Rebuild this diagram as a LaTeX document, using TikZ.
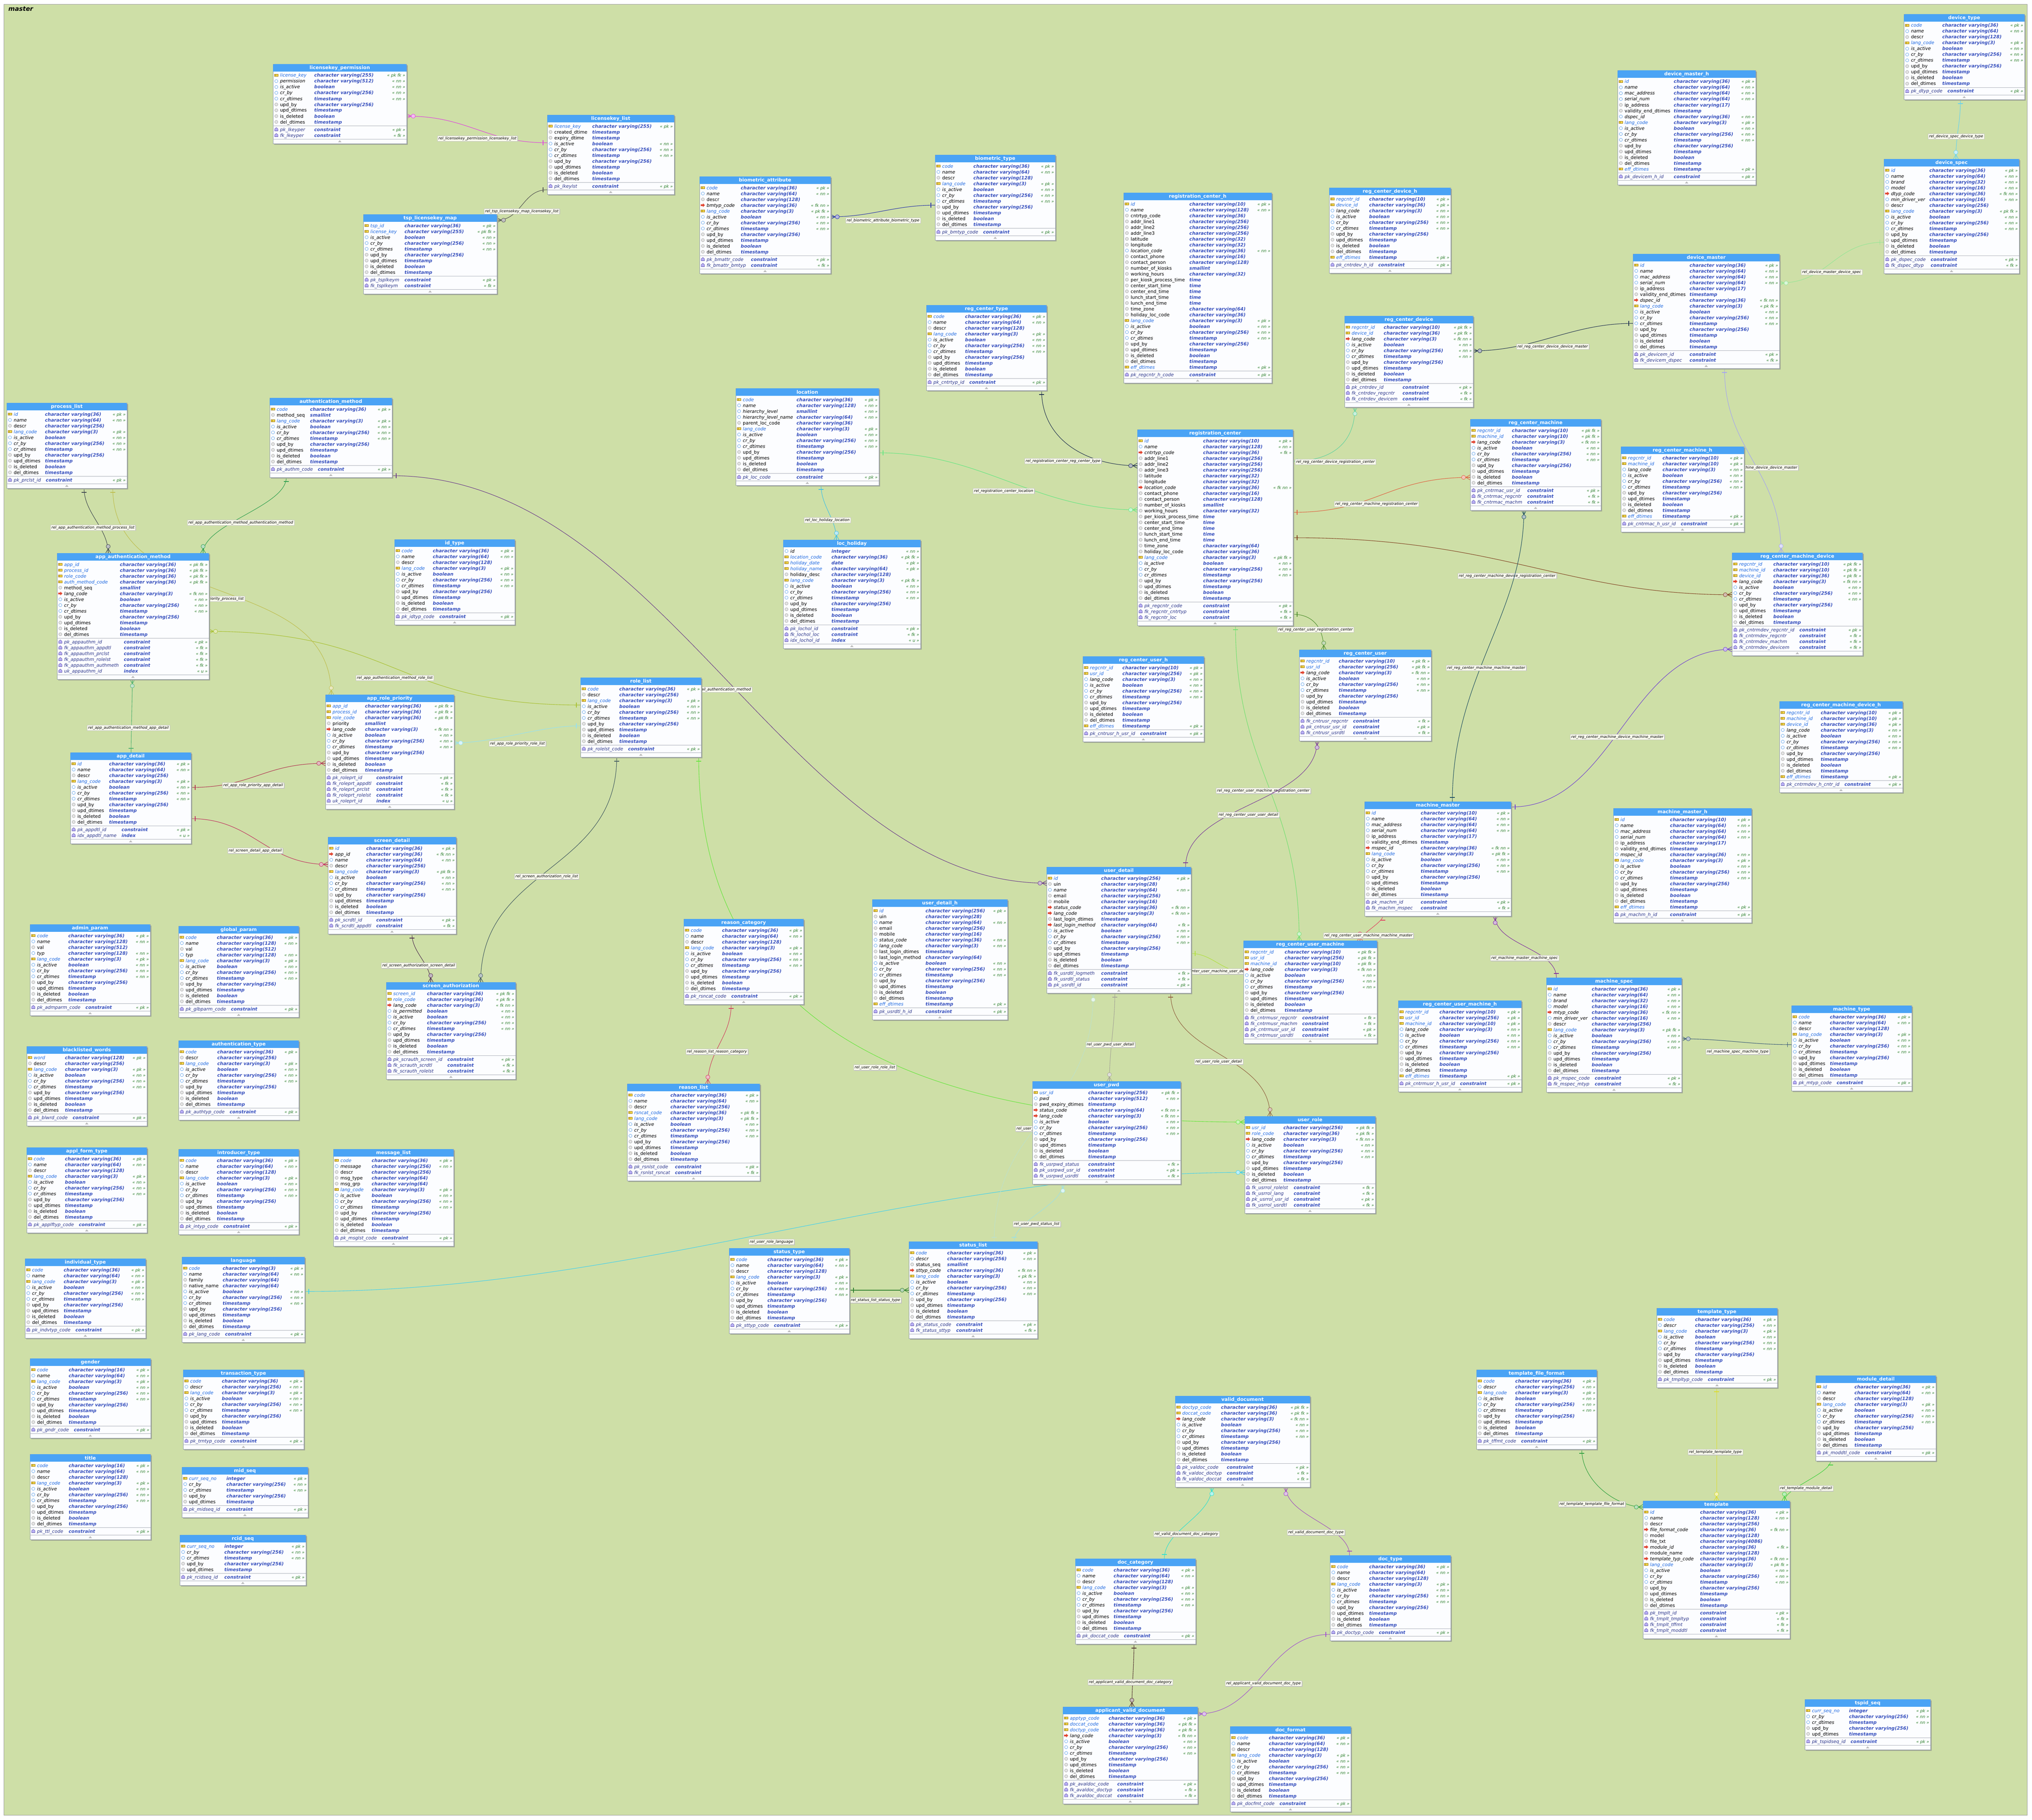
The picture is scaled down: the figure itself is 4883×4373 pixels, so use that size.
\documentclass[tikz,border=0pt]{standalone}
\usepackage{fontspec}
\setmainfont{DejaVu Sans}
\usetikzlibrary{calc,shadows}
\pgfdeclarelayer{back}
\pgfdeclarelayer{conn}
\pgfsetlayers{back,conn,main}
\definecolor{bgg}{RGB}{206,223,167}
\definecolor{hdr}{RGB}{74,163,245}
\definecolor{bodyc}{RGB}{252,253,255}
\definecolor{bordc}{RGB}{140,150,165}
\definecolor{shd}{RGB}{165,172,150}
\definecolor{sepc}{RGB}{170,175,185}
\definecolor{tyb}{RGB}{55,80,190}
\definecolor{pkb}{RGB}{30,105,225}
\definecolor{cnb}{RGB}{45,55,140}
\definecolor{tagg}{RGB}{40,125,40}
\definecolor{keyy}{RGB}{245,215,70}
\definecolor{keyd}{RGB}{160,125,20}
\definecolor{nnc}{RGB}{100,165,235}
\definecolor{fkc}{RGB}{225,70,50}
\definecolor{cic}{RGB}{185,175,245}
\definecolor{cid}{RGB}{85,75,165}
\definecolor{labf}{RGB}{251,252,238}
\catcode`\_=12
\def\cv#1{character varying(#1)}
\def\aud{N/is_active/boolean/nn,N/cr_by/\cv{256}/nn,N/cr_dtimes/timestamp/nn,P/upd_by/\cv{256}/-,P/upd_dtimes/timestamp/-,P/is_deleted/boolean/-,P/del_dtimes/timestamp/-}
\def\lk{K/lang_code/\cv{3}/pk}
\def\lkf{K/lang_code/\cv{3}/pk fk}
\def\lff{F/lang_code/\cv{3}/fk nn}
\def\lnn{N/lang_code/\cv{3}/nn}
\def\eff{K/eff_dtimes/timestamp/pk}
\def\typ{K/code/\cv{36}/pk,N/name/\cv{64}/nn,P/descr/\cv{128}/-,\lk,\aud}
\def\seq{K/curr_seq_no/integer/pk,N/cr_by/\cv{256}/nn,N/cr_dtimes/timestamp/nn,P/upd_by/\cv{256}/-,P/upd_dtimes/timestamp/-}
\def\prm{K/code/\cv{36}/pk,N/name/\cv{128}/nn,P/val/\cv{512}/-,N/typ/\cv{128}/nn,\lk,\aud}
\def\dmA{N/name/\cv{64}/nn,N/mac_address/\cv{64}/nn,N/serial_num/\cv{64}/nn,P/ip_address/\cv{17}/-,P/validity_end_dtimes/timestamp/-}
\def\rcA{P/addr_line1/\cv{256}/-,P/addr_line2/\cv{256}/-,P/addr_line3/\cv{256}/-,P/latitude/\cv{32}/-,P/longitude/\cv{32}/-}
\def\rcB{P/contact_phone/\cv{16}/-,P/contact_person/\cv{128}/-,P/number_of_kiosks/smallint/-,P/working_hours/\cv{32}/-,P/per_kiosk_process_time/time/-,P/center_start_time/time/-,P/center_end_time/time/-,P/lunch_start_time/time/-,P/lunch_end_time/time/-,P/time_zone/\cv{64}/-,P/holiday_loc_code/\cv{36}/-}
\newcount\nr \newcount\nc \newdimen\cw
\def\tagnone{-}
\newcommand\cfnt{\fontsize{11}{13}\selectfont\itshape}
\newcommand\nmfont[1]{\if#1K\color{pkb}\itshape\else\if#1P\else\itshape\fi\fi}
\newcommand\ricon[3]{%
 \if#1K\filldraw[fill=keyy,draw=keyd,line width=0.6] ({#2-5},{#3-2.5}) rectangle ({#2+4},{#3+2.5});\draw[keyd,line width=0.6] ({#2-2},{#3-2.5}) -- ({#2-2},{#3+2.5});%
 \else\if#1N\filldraw[fill=white,draw=nnc,line width=0.8] ({#2},{#3}) circle (3.8);%
 \else\if#1F\fill[fkc] ({#2-5},{#3-2}) -- ({#2},{#3-2}) -- ({#2},{#3-4.5}) -- ({#2+5},{#3}) -- ({#2},{#3+4.5}) -- ({#2},{#3+2}) -- ({#2-5},{#3+2}) -- cycle;%
 \else\filldraw[fill=gray!20,draw=gray!65,line width=0.8] ({#2},{#3}) circle (3.8);%
 \fi\fi\fi}
\newcommand\cicon[2]{\filldraw[fill=cic,draw=cid,line width=0.6] ({#1-4},{#2+3.5}) -- ({#1-4},{#2-1}) -- ({#1},{#2-4.5}) -- ({#1+4},{#2-1}) -- ({#1+4},{#2+3.5}) -- cycle;}
\tikzset{
 nm/.style={anchor=base west,inner sep=0,font=\fontsize{11}{13}\selectfont},
 cnm/.style={anchor=base west,inner sep=0,font=\cfnt,text=cnb},
 typ/.style={anchor=base west,inner sep=0,font=\fontsize{11}{13}\selectfont\bfseries\itshape,text=tyb},
 tagst/.style={anchor=base east,inner sep=0,font=\fontsize{10}{12}\selectfont\itshape,text=tagg},
 hdrt/.style={inner sep=0,font=\fontsize{11.5}{13}\selectfont\bfseries,text=white},
 rlab/.style={draw=gray!45,fill=labf,line width=0.6,inner xsep=2.5,inner ysep=1.8,font=\fontsize{9}{10}\selectfont\itshape,text=black,drop shadow={shadow xshift=1.2pt,shadow yshift=-1.2pt,fill=gray!50,opacity=1}},
 pbar/.pic={\draw[line width=1.1] (10,-6) -- (10,6);},
 crowf/.pic={\draw[line width=1.1] (0,-6) -- (11,0) -- (0,6) (0,0) -- (11,0); \filldraw[fill=relc!35!white,line width=0.8] (16,0) circle (5);}
}
\newcommand\tbl[8]{%
 \edef\rowsL{#7}\edef\consL{#8}%
 \global\nr=0 \foreach \q in \rowsL {\global\advance\nr by 1 }%
 \global\nc=0 \global\cw=0pt
 \foreach \cn/\ct/\cg in \consL {\global\advance\nc by 1 \pgfinterruptpicture\setbox0=\hbox{\cfnt\cn}\ifdim\wd0>\cw\global\cw=\wd0\fi\endpgfinterruptpicture}%
 \edef\nR{\the\nr}\edef\nC{\the\nc}\edef\cwv{\the\cw}%
 \pgfmathsetmacro\H{14*\nR+14*\nC+37}%
 \pgfmathsetmacro\CT{max(#6,29+\cwv)}%
 \node[inner sep=0,outer sep=0,minimum width=#5pt,minimum height=\H pt,anchor=north west] (#1) at (#3,#4) {};
 \fill[shd] ({#3+3},{#4+3}) rectangle ({#3+#5+3},{#4+\H+3});
 \filldraw[fill=bodyc,draw=bordc,line width=0.8] (#3,#4) rectangle ({#3+#5},{#4+\H});
 \fill[hdr,rounded corners=3] (#3,#4) rectangle ({#3+#5},{#4+14});
 \fill[hdr] (#3,{#4+8}) rectangle ({#3+#5},{#4+18});
 \node[hdrt] at ({#3+#5/2},{#4+9.5}) {#2};
 \draw[sepc,line width=0.7] (#3,{#4+14*\nR+22}) -- ({#3+#5},{#4+14*\nR+22});
 \draw[sepc,line width=0.7] (#3,{#4+\H-11}) -- ({#3+#5},{#4+\H-11});
 \fill[gray!55] ({#3+#5/2-4},{#4+\H-3.5}) -- ({#3+#5/2+4},{#4+\H-3.5}) -- ({#3+#5/2},{#4+\H-8}) -- cycle;
 \foreach \rk/\rn/\rt/\rg [count=\ri from 0] in \rowsL {%
   \pgfmathsetmacro\yc{#4+27+14*\ri}%
   \ricon{\rk}{#3+8}{\yc}%
   \node[nm] at ({#3+17},{\yc+4}) {\nmfont{\rk}\rn};%
   \node[typ] at ({#3+#6},{\yc+4}) {\rt};%
   \edef\gg{\rg}\ifx\gg\tagnone\else\node[tagst] at ({#3+#5-3},{\yc+4}) {« {\rg} »};\fi
 }%
 \foreach \cn/\ct/\cg [count=\ci from 0] in \consL {%
   \pgfmathsetmacro\yc{#4+14*\nR+31+14*\ci}%
   \cicon{#3+8}{\yc}%
   \node[cnm] at ({#3+17},{\yc+4}) {\cn};%
   \node[typ] at ({#3+\CT},{\yc+4}) {\ct};%
   \node[tagst] at ({#3+#5-3},{\yc+4}) {« {\cg} »};%
 }%
}
\newcommand\rel[9]{%
 \definecolor{relc}{RGB}{#1}%
 \draw[relc,line width=1.1] (#2) .. controls ($(#2)+(#3:#6pt)$) and ($(#4)+(#5:#7pt)$) .. (#4);
 \pic[relc,rotate=#3] at (#2) {pbar};
 \pic[relc,rotate=#5] at (#4) {crowf};
 \node[rlab,anchor=west] at (#8) {#9};
}
\begin{document}
\begin{tikzpicture}[x=1pt,y=-1pt]
\useasboundingbox (0,0) rectangle (4883,4373);
\begin{pgfonlayer}{back}
\fill[white] (0,0) rectangle (4883,4373);
\filldraw[fill=bgg,draw=gray!80,line width=1] (9,11) rectangle (4871,4361);
\end{pgfonlayer}
\node[anchor=base west,inner sep=0,font=\fontsize{15}{17}\selectfont\bfseries\itshape] (master) at (20,27) {master};
% ---------------- tables ----------------
\tbl{lkp}{licensekey_permission}{656}{154}{321}{99}{K/license_key/\cv{255}/pk fk,N/permission/\cv{512}/nn,\aud}{pk_lkeyper/constraint/pk,fk_lkeyper/constraint/fk}
\tbl{tsp}{tsp_licensekey_map}{873}{515}{321}{99}{K/tsp_id/\cv{36}/pk,K/license_key/\cv{255}/pk fk,\aud}{pk_tsplkeym/constraint/pk,fk_tsplkeym/constraint/fk}
\tbl{prl}{process_list}{16}{968}{289}{92}{K/id/\cv{36}/pk,N/name/\cv{64}/nn,P/descr/\cv{256}/-,\lk,\aud}{pk_prclst_id/constraint/pk}
\tbl{am}{authentication_method}{648}{956}{294}{97}{K/code/\cv{36}/pk,P/method_seq/smallint/-,\lk,\aud}{pk_authm_code/constraint/pk}
\tbl{aam}{app_authentication_method}{137}{1329}{365}{151}{K/app_id/\cv{36}/pk fk,K/process_id/\cv{36}/pk fk,K/role_code/\cv{36}/pk fk,K/auth_method_code/\cv{36}/pk fk,P/method_seq/smallint/-,\lff,\aud}{pk_appauthm_id/constraint/pk,fk_appauthm_appdtl/constraint/fk,fk_appauthm_prclst/constraint/fk,fk_appauthm_rolelst/constraint/fk,fk_appauthm_authmeth/constraint/fk,uk_appauthm_id/index/u}
\tbl{idt}{id_type}{948}{1296}{289}{92}{\typ}{pk_idtyp_code/constraint/pk}
\tbl{lkl}{licensekey_list}{1315}{276}{305}{108}{K/license_key/\cv{255}/pk,P/created_dtime/timestamp/-,P/expiry_dtime/timestamp/-,\aud}{pk_lkeylst/constraint/pk}
\tbl{bma}{biometric_attribute}{1681}{424}{315}{99}{K/code/\cv{36}/pk,N/name/\cv{64}/nn,P/descr/\cv{128}/-,F/bmtyp_code/\cv{36}/fk nn,\lkf,\aud}{pk_bmattr_code/constraint/pk,fk_bmattr_bmtyp/constraint/fk}
\tbl{bmt}{biometric_type}{2247}{372}{289}{92}{\typ}{pk_bmtyp_code/constraint/pk}
\tbl{rct}{reg_center_type}{2226}{733}{289}{93}{\typ}{pk_cntrtyp_id/constraint/pk}
\tbl{loc}{location}{1768}{933}{344}{146}{K/code/\cv{36}/pk,N/name/\cv{128}/nn,N/hierarchy_level/smallint/nn,N/hierarchy_level_name/\cv{64}/nn,P/parent_loc_code/\cv{36}/-,\lk,\aud}{pk_loc_code/constraint/pk}
\tbl{lhol}{loc_holiday}{1882}{1297}{330}{116}{N/id/integer/nn,K/location_code/\cv{36}/pk fk,K/holiday_date/date/pk,K/holiday_name/\cv{64}/pk,P/holiday_desc/\cv{128}/-,\lkf,\aud}{pk_lochol_id/constraint/pk,fk_lochol_loc/constraint/fk,idx_lochol_id/index/u}
\tbl{rch}{registration_center_h}{2700}{463}{356}{158}{K/id/\cv{10}/pk,N/name/\cv{128}/nn,P/cntrtyp_code/\cv{36}/-,\rcA,N/location_code/\cv{36}/nn,\rcB,\lk,\aud,\eff}{pk_regcntr_h_code/constraint/pk}
\tbl{rcdh}{reg_center_device_h}{3194}{451}{292}{96}{K/regcntr_id/\cv{10}/pk,K/device_id/\cv{36}/pk,\lnn,\aud,\eff}{pk_cntrdev_h_id/constraint/pk}
\tbl{rcd}{reg_center_device}{3231}{759}{309}{94}{K/regcntr_id/\cv{10}/pk fk,K/device_id/\cv{36}/pk fk,\lff,\aud}{pk_cntrdev_id/constraint/pk,fk_cntrdev_regcntr/constraint/fk,fk_cntrdev_devicem/constraint/fk}
\tbl{rc}{registration_center}{2733}{1032}{374}{158}{K/id/\cv{10}/pk,N/name/\cv{128}/nn,F/cntrtyp_code/\cv{36}/fk,\rcA,F/location_code/\cv{36}/fk nn,\rcB,\lkf,\aud}{pk_regcntr_code/constraint/pk,fk_regcntr_cntrtyp/constraint/fk,fk_regcntr_loc/constraint/fk}
\tbl{rcm}{reg_center_machine}{3533}{1007}{314}{100}{K/regcntr_id/\cv{10}/pk fk,K/machine_id/\cv{10}/pk fk,\lff,\aud}{pk_cntrmac_usr_id/constraint/pk,fk_cntrmac_regcntr/constraint/fk,fk_cntrmac_machm/constraint/fk}
\tbl{dt}{device_type}{4575}{34}{290}{92}{\typ}{pk_dtyp_code/constraint/pk}
\tbl{dmh}{device_master_h}{3887}{169}{332}{135}{K/id/\cv{36}/pk,\dmA,N/dspec_id/\cv{36}/nn,\lk,\aud,\eff}{pk_devicem_h_id/constraint/pk}
\tbl{ds}{device_spec}{4527}{382}{325}{109}{K/id/\cv{36}/pk,N/name/\cv{64}/nn,N/brand/\cv{32}/nn,N/model/\cv{16}/nn,F/dtyp_code/\cv{36}/fk nn,N/min_driver_ver/\cv{16}/nn,P/descr/\cv{256}/-,\lkf,\aud}{pk_dspec_code/constraint/pk,fk_dspec_dtyp/constraint/fk}
\tbl{dm}{device_master}{3924}{610}{352}{136}{K/id/\cv{36}/pk,\dmA,F/dspec_id/\cv{36}/fk nn,\lkf,\aud}{pk_devicem_id/constraint/pk,fk_devicem_dspec/constraint/fk}
\tbl{rcmh}{reg_center_machine_h}{3895}{1073}{296}{100}{K/regcntr_id/\cv{10}/pk,K/machine_id/\cv{10}/pk,\lnn,\aud,\eff}{pk_cntrmac_h_usr_id/constraint/pk}
\tbl{rcmd}{reg_center_machine_device}{4162}{1328}{314}{99}{K/regcntr_id/\cv{10}/pk fk,K/machine_id/\cv{10}/pk fk,K/device_id/\cv{36}/pk fk,\lff,\aud}{pk_cntrmdev_regcntr_id/constraint/pk,fk_cntrmdev_regcntr/constraint/fk,fk_cntrmdev_machm/constraint/fk,fk_cntrmdev_devicem/constraint/fk}
\tbl{arp}{app_role_priority}{782}{1669}{309}{95}{K/app_id/\cv{36}/pk fk,K/process_id/\cv{36}/pk fk,K/role_code/\cv{36}/pk fk,P/priority/smallint/-,\lff,\aud}{pk_roleprt_id/constraint/pk,fk_roleprt_appdtl/constraint/fk,fk_roleprt_prclst/constraint/fk,fk_roleprt_rolelst/constraint/fk,uk_roleprt_id/index/u}
\tbl{ad}{app_detail}{169}{1808}{290}{93}{K/id/\cv{36}/pk,N/name/\cv{64}/nn,P/descr/\cv{256}/-,\lk,\aud}{pk_appdtl_id/constraint/pk,idx_appdtl_name/index/u}
\tbl{sd}{screen_detail}{788}{2011}{308}{92}{K/id/\cv{36}/pk,F/app_id/\cv{36}/fk nn,N/name/\cv{64}/nn,P/descr/\cv{256}/-,\lkf,\aud}{pk_scrdtl_id/constraint/pk,fk_scrdtl_appdtl/constraint/fk}
\tbl{ap}{admin_param}{72}{2221}{289}{92}{\prm}{pk_admparm_code/constraint/pk}
\tbl{gp}{global_param}{429}{2225}{289}{92}{\prm}{pk_glbparm_code/constraint/pk}
\tbl{sa}{screen_authorization}{928}{2360}{311}{98}{K/screen_id/\cv{36}/pk fk,K/role_code/\cv{36}/pk fk,\lff,N/is_permitted/boolean/nn,\aud}{pk_scrauth_screen_id/constraint/pk,fk_scrauth_scrdtl/constraint/fk,fk_scrauth_rolelst/constraint/fk}
\tbl{bw}{blacklisted_words}{64}{2514}{289}{92}{K/word/\cv{128}/pk,P/descr/\cv{256}/-,\lk,\aud}{pk_blwrd_code/constraint/pk}
\tbl{att}{authentication_type}{429}{2500}{289}{93}{K/code/\cv{36}/pk,P/descr/\cv{256}/-,\lk,\aud}{pk_authtyp_code/constraint/pk}
\tbl{aft}{appl_form_type}{64}{2757}{289}{92}{\typ}{pk_applftyp_code/constraint/pk}
\tbl{itt}{introducer_type}{429}{2761}{289}{92}{\typ}{pk_intyp_code/constraint/pk}
\tbl{ml}{message_list}{801}{2761}{289}{92}{K/code/\cv{36}/pk,N/message/\cv{256}/nn,P/descr/\cv{256}/-,P/msg_type/\cv{64}/-,P/msg_grp/\cv{64}/-,\lk,\aud}{pk_msglst_code/constraint/pk}
\tbl{rl}{role_list}{1395}{1628}{290}{93}{K/code/\cv{36}/pk,P/descr/\cv{256}/-,\lk,\aud}{pk_rolelst_code/constraint/pk}
\tbl{rcat}{reason_category}{1643}{2208}{288}{92}{\typ}{pk_rsncat_code/constraint/pk}
\tbl{udh}{user_detail_h}{2096}{2161}{325}{128}{K/id/\cv{256}/pk,P/uin/\cv{28}/-,N/name/\cv{64}/nn,P/email/\cv{256}/-,P/mobile/\cv{16}/-,N/status_code/\cv{36}/nn,\lnn,P/last_login_dtimes/timestamp/-,P/last_login_method/\cv{64}/-,\aud,\eff}{pk_usrdtl_h_id/constraint/pk}
\tbl{rsl}{reason_list}{1507}{2604}{319}{104}{K/code/\cv{36}/pk,N/name/\cv{64}/nn,P/descr/\cv{256}/-,K/rsncat_code/\cv{36}/pk fk,\lkf,\aud}{pk_rsnlst_code/constraint/pk,fk_rsnlst_rsncat/constraint/fk}
\tbl{rcuh}{reg_center_user_h}{2602}{1577}{291}{95}{K/regcntr_id/\cv{10}/pk,K/usr_id/\cv{256}/pk,\lnn,\aud,\eff}{pk_cntrusr_h_usr_id/constraint/pk}
\tbl{rcu}{reg_center_user}{3122}{1561}{317}{95}{K/regcntr_id/\cv{10}/pk fk,K/usr_id/\cv{256}/pk fk,\lff,\aud}{fk_cntrusr_regcntr/constraint/fk,pk_cntrusr_usr_id/constraint/pk,fk_cntrusr_usrdtl/constraint/fk}
\tbl{mm}{machine_master}{3279}{1926}{352}{135}{K/id/\cv{10}/pk,\dmA,F/mspec_id/\cv{36}/fk nn,\lkf,\aud}{pk_machm_id/constraint/pk,fk_machm_mspec/constraint/fk}
\tbl{ud}{user_detail}{2515}{2083}{347}{131}{K/id/\cv{256}/pk,P/uin/\cv{28}/-,N/name/\cv{64}/nn,P/email/\cv{256}/-,P/mobile/\cv{16}/-,F/status_code/\cv{36}/fk nn,\lff,P/last_login_dtimes/timestamp/-,F/last_login_method/\cv{64}/fk,\aud}{fk_usrdtl_logmeth/constraint/fk,fk_usrdtl_status/constraint/fk,pk_usrdtl_id/constraint/pk}
\tbl{rcum}{reg_center_user_machine}{2988}{2260}{321}{99}{K/regcntr_id/\cv{10}/pk fk,K/usr_id/\cv{256}/pk fk,K/machine_id/\cv{10}/pk fk,\lff,\aud}{fk_cntrmusr_regcntr/constraint/fk,fk_cntrmusr_machm/constraint/fk,pk_cntrmusr_usr_id/constraint/pk,fk_cntrmusr_usrdtl/constraint/fk}
\tbl{rcumh}{reg_center_user_machine_h}{3360}{2404}{296}{99}{K/regcntr_id/\cv{10}/pk,K/usr_id/\cv{256}/pk,K/machine_id/\cv{10}/pk,\lnn,\aud,\eff}{pk_cntrmusr_h_usr_id/constraint/pk}
\tbl{upw}{user_pwd}{2481}{2598}{356}{134}{K/usr_id/\cv{256}/pk fk,N/pwd/\cv{512}/nn,P/pwd_expiry_dtimes/timestamp/-,F/status_code/\cv{64}/fk nn,\lff,\aud}{fk_usrpwd_status/constraint/fk,pk_usrpwd_usr_id/constraint/pk,fk_usrpwd_usrdtl/constraint/fk}
\tbl{ur}{user_role}{2991}{2682}{314}{93}{K/usr_id/\cv{256}/pk fk,K/role_code/\cv{36}/pk fk,\lff,\aud}{fk_usrrol_rolelst/constraint/fk,fk_usrrol_lang/constraint/fk,pk_usrrol_usr_id/constraint/pk,fk_usrrol_usrdtl/constraint/fk}
\tbl{rcmdh}{reg_center_machine_device_h}{4276}{1685}{296}{99}{K/regcntr_id/\cv{10}/pk,K/machine_id/\cv{10}/pk,K/device_id/\cv{36}/pk,\lnn,\aud,\eff}{pk_cntrmdev_h_cntr_id/constraint/pk}
\tbl{mmh}{machine_master_h}{3877}{1942}{332}{136}{K/id/\cv{10}/pk,\dmA,N/mspec_id/\cv{36}/nn,\lk,\aud,\eff}{pk_machm_h_id/constraint/pk}
\tbl{msp}{machine_spec}{3716}{2349}{325}{109}{K/id/\cv{36}/pk,N/name/\cv{64}/nn,N/brand/\cv{32}/nn,N/model/\cv{16}/nn,F/mtyp_code/\cv{36}/fk nn,N/min_driver_ver/\cv{16}/nn,P/descr/\cv{256}/-,\lkf,\aud}{pk_mspec_code/constraint/pk,fk_mspec_mtyp/constraint/fk}
\tbl{mt}{machine_type}{4305}{2416}{289}{92}{\typ}{pk_mtyp_code/constraint/pk}
\tbl{indt}{individual_type}{60}{3024}{290}{93}{K/code/\cv{36}/pk,N/name/\cv{64}/nn,\lk,\aud}{pk_indvtyp_code/constraint/pk}
\tbl{lang}{language}{437}{3020}{295}{98}{K/code/\cv{3}/pk,N/name/\cv{64}/nn,P/family/\cv{64}/-,P/native_name/\cv{64}/-,\aud}{pk_lang_code/constraint/pk}
\tbl{gen}{gender}{72}{3264}{290}{93}{K/code/\cv{16}/pk,N/name/\cv{64}/nn,\lk,\aud}{pk_gndr_code/constraint/pk}
\tbl{tt}{transaction_type}{440}{3291}{290}{93}{K/code/\cv{36}/pk,N/descr/\cv{256}/nn,\lk,\aud}{pk_trntyp_code/constraint/pk}
\tbl{ttl}{title}{72}{3494}{290}{93}{K/code/\cv{16}/pk,N/name/\cv{64}/nn,P/descr/\cv{128}/-,\lk,\aud}{pk_ttl_code/constraint/pk}
\tbl{mid}{mid_seq}{437}{3525}{303}{107}{\seq}{pk_midseq_id/constraint/pk}
\tbl{rcid}{rcid_seq}{432}{3688}{303}{107}{\seq}{pk_rcidseq_id/constraint/pk}
\tbl{st}{status_type}{1752}{2999}{289}{92}{\typ}{pk_sttyp_code/constraint/pk}
\tbl{sl}{status_list}{2184}{2983}{309}{92}{K/code/\cv{36}/pk,N/descr/\cv{256}/nn,P/status_seq/smallint/-,F/sttyp_code/\cv{36}/fk nn,\lkf,\aud}{pk_status_code/constraint/pk,fk_status_sttyp/constraint/fk}
\tbl{vd}{valid_document}{2824}{3354}{324}{110}{K/doctyp_code/\cv{36}/pk fk,K/doccat_code/\cv{36}/pk fk,\lff,\aud}{pk_valdoc_code/constraint/pk,fk_valdoc_doctyp/constraint/fk,fk_valdoc_doccat/constraint/fk}
\tbl{dc}{doc_category}{2584}{3745}{289}{92}{\typ}{pk_doccat_code/constraint/pk}
\tbl{dty}{doc_type}{3196}{3737}{290}{94}{\typ}{pk_doctyp_code/constraint/pk}
\tbl{avd}{applicant_valid_document}{2554}{4101}{324}{110}{K/apptyp_code/\cv{36}/pk,K/doccat_code/\cv{36}/pk fk,K/doctyp_code/\cv{36}/pk fk,\lff,\aud}{pk_avaldoc_code/constraint/pk,fk_avaldoc_doctyp/constraint/fk,fk_avaldoc_doccat/constraint/fk}
\tbl{df}{doc_format}{2956}{4148}{290}{93}{\typ}{pk_docfmt_code/constraint/pk}
\tbl{tff}{template_file_format}{3548}{3291}{289}{93}{K/code/\cv{36}/pk,N/descr/\cv{256}/nn,\lk,\aud}{pk_tffmt_code/constraint/pk}
\tbl{tpt}{template_type}{3981}{3143}{290}{92}{K/code/\cv{36}/pk,N/descr/\cv{256}/nn,\lk,\aud}{pk_tmpltyp_code/constraint/pk}
\tbl{mdt}{module_detail}{4363}{3305}{289}{93}{K/id/\cv{36}/pk,N/name/\cv{64}/nn,P/descr/\cv{128}/-,\lk,\aud}{pk_moddtl_code/constraint/pk}
\tbl{tpl}{template}{3948}{3606}{353}{137}{K/id/\cv{36}/pk,N/name/\cv{128}/nn,P/descr/\cv{256}/-,F/file_format_code/\cv{36}/fk nn,P/model/\cv{128}/-,P/file_txt/\cv{4086}/-,F/module_id/\cv{36}/fk,P/module_name/\cv{128}/-,F/template_typ_code/\cv{36}/fk nn,\lkf,\aud}{pk_tmplt_id/constraint/pk,fk_tmplt_tmpltyp/constraint/fk,fk_tmplt_tffmt/constraint/fk,fk_tmplt_moddtl/constraint/fk}
\tbl{tsq}{tspid_seq}{4337}{4083}{302}{106}{\seq}{pk_tspidseq_id/constraint/pk}
% ---------------- relations ----------------
\begin{pgfonlayer}{conn}
\rel{224,64,224}{lkl.west |- 0,343}{180}{lkp.east |- 0,279}{0}{150}{150}{1051,333}{rel_licensekey_permission_licensekey_list}
\rel{80,80,80}{lkl.west |- 0,456}{180}{tsp.east |- 0,529}{0}{60}{60}{1163,508}{rel_tsp_licensekey_map_licensekey_list}
\rel{40,50,170}{bmt.west |- 0,493}{180}{bma.east |- 0,521}{0}{100}{100}{2032,530}{rel_biometric_attribute_biometric_type}
\rel{32,48,80}{rct.south -| 2503,0}{270}{rc.west |- 0,1119}{180}{120}{120}{2462,1108}{rel_registration_center_reg_center_type}
\rel{100,230,130}{loc.east |- 0,1088}{0}{rc.west |- 0,1225}{180}{250}{250}{2338,1180}{rel_registration_center_location}
\rel{64,192,230}{loc.south -| 1973,0}{270}{lhol.north -| 2010,0}{90}{50}{50}{1932,1250}{rel_loc_holiday_location}
\rel{100,210,160}{rc.east |- 0,1108}{0}{rcd.south -| 3256,0}{270}{90}{90}{3112,1110}{rel_reg_center_device_registration_center}
\rel{224,96,64}{rc.east |- 0,1231}{0}{rcm.west |- 0,1147}{180}{200}{200}{3206,1211}{rel_reg_center_machine_registration_center}
\rel{128,64,32}{rc.east |- 0,1292}{0}{rcmd.west |- 0,1429}{180}{500}{400}{3503,1384}{rel_reg_center_machine_device_registration_center}
\rel{32,48,80}{dm.west |- 0,777}{180}{rcd.east |- 0,843}{0}{150}{150}{3644,833}{rel_reg_center_device_device_master}
\rel{100,210,240}{dt.south -| 4711,0}{270}{ds.north -| 4700,0}{90}{60}{60}{4633,328}{rel_device_spec_device_type}
\rel{150,230,150}{ds.west |- 0,582}{180}{dm.east |- 0,680}{0}{120}{120}{4328,654}{rel_device_master_device_spec}
\rel{165,165,240}{dm.south -| 4144,0}{270}{rcmd.north -| 4280,0}{90}{200}{200}{4104,1124}{rel_reg_center_machine_device_device_master}
\rel{112,64,208}{mm.east |- 0,1939}{0}{rcmd.west |- 0,1560}{180}{250}{250}{3773,1771}{rel_reg_center_machine_device_machine_master}
\rel{30,78,96}{mm.north -| 3490,0}{90}{rcm.south -| 3662,0}{270}{300}{250}{3475,1605}{rel_reg_center_machine_machine_master}
\rel{128,48,160}{msp.north -| 3740,0}{90}{mm.south -| 3593,0}{270}{70}{70}{3581,2302}{rel_machine_master_machine_spec}
\rel{58,90,122}{mt.west |- 0,2510}{180}{msp.east |- 0,2496}{0}{100}{100}{4099,2527}{rel_machine_spec_machine_type}
\rel{80,144,48}{rc.east |- 0,1476}{0}{rcu.north -| 3181,0}{90}{50}{50}{3069,1513}{rel_reg_center_user_registration_center}
\rel{112,224,112}{rc.south -| 2969,0}{270}{rcum.north -| 3122,0}{90}{350}{350}{2922,1900}{rel_reg_center_user_machine_registration_center}
\rel{122,58,154}{ud.north -| 2849,0}{90}{rcu.south -| 3165,0}{270}{150}{150}{2926,1958}{rel_reg_center_user_user_detail}
\rel{176,224,64}{ud.east |- 0,2291}{0}{rcum.west |- 0,2335}{180}{50}{50}{2815,2334}{rel_reg_center_user_machine_user_detail}
\rel{224,64,96}{mm.south -| 3323,0}{270}{rcum.north -| 3268,0}{90}{15}{15}{3180,2248}{rel_reg_center_user_machine_machine_master}
\rel{165,165,150}{ud.south -| 2679,0}{270}{upw.north -| 2666,0}{90}{80}{80}{2609,2510}{rel_user_pwd_user_detail}
\rel{144,96,64}{ud.south -| 2813,0}{270}{ur.north -| 3052,0}{90}{150}{150}{2870,2551}{rel_user_role_user_detail}
\rel{100,230,60}{rl.south -| 1679,0}{270}{ur.west |- 0,2696}{180}{700}{700}{2051,2565}{rel_user_role_role_list}
\rel{64,208,240}{lang.east |- 0,3103}{0}{ur.west |- 0,2817}{180}{800}{800}{1799,2984}{rel_user_role_language}
\rel{160,224,224}{sl.north -| 2437,0}{90}{upw.south -| 2554,0}{270}{50}{50}{2434,2941}{rel_user_pwd_status_list}
\rel{190,225,200}{sl.north -| 2389,0}{90}{ud.south -| 2627,0}{270}{300}{300}{2440,2712}{rel_user_detail_status_list}
\rel{208,64,96}{rcat.south -| 1757,0}{270}{rsl.north -| 1701,0}{90}{80}{80}{1648,2527}{rel_reason_list_reason_category}
\rel{64,88,96}{rl.south -| 1482,0}{270}{sa.north -| 1155,0}{90}{280}{280}{1236,2106}{rel_screen_authorization_role_list}
\rel{80,48,80}{sd.south -| 990,0}{270}{sa.north -| 1035,0}{90}{45}{45}{916,2320}{rel_screen_authorization_screen_detail}
\rel{192,48,96}{ad.east |- 0,1967}{0}{sd.west |- 0,2077}{180}{150}{150}{547,2044}{rel_screen_detail_app_detail}
\rel{176,48,80}{ad.east |- 0,1892}{0}{arp.west |- 0,1834}{180}{150}{150}{534,1887}{rel_app_role_priority_app_detail}
\rel{150,225,240}{rl.west |- 0,1744}{180}{arp.east |- 0,1785}{0}{100}{100}{1175,1787}{rel_app_role_priority_role_list}
\rel{168,192,48}{rl.west |- 0,1694}{180}{aam.east |- 0,1517}{0}{450}{450}{855,1629}{rel_app_authentication_method_role_list}
\rel{190,190,80}{prl.south -| 271,0}{270}{arp.north -| 796,0}{90}{300}{300}{434,1439}{rel_app_role_priority_process_list}
\rel{64,72,80}{prl.south -| 202,0}{270}{aam.north -| 260,0}{90}{60}{60}{121,1268}{rel_app_authentication_method_process_list}
\rel{48,160,80}{am.south -| 688,0}{270}{aam.north -| 488,0}{90}{70}{70}{450,1256}{rel_app_authentication_method_authentication_method}
\rel{80,176,112}{ad.north -| 315,0}{90}{aam.south -| 318,0}{270}{40}{40}{209,1749}{rel_app_authentication_method_app_detail}
\rel{106,58,138}{am.east |- 0,1143}{0}{ud.west |- 0,2122}{180}{658}{615}{1627,1657}{rel_user_detail_authentication_method}
\rel{80,48,48}{dc.south -| 2725,0}{270}{avd.north -| 2720,0}{90}{50}{50}{2614,4042}{rel_applicant_valid_document_doc_category}
\rel{160,80,208}{dty.west |- 0,3927}{180}{avd.east |- 0,4118}{0}{150}{150}{2944,4045}{rel_applicant_valid_document_doc_type}
\rel{48,224,208}{dc.north -| 2798,0}{90}{vd.south -| 2912,0}{270}{70}{70}{2772,3686}{rel_valid_document_doc_category}
\rel{160,80,192}{dty.north -| 3243,0}{90}{vd.south -| 3090,0}{270}{70}{70}{3093,3682}{rel_valid_document_doc_type}
\rel{220,220,40}{tpt.south -| 4125,0}{270}{tpl.north -| 4125,0}{90}{50}{50}{4056,3489}{rel_template_template_type}
\rel{48,160,64}{tff.south -| 3801,0}{270}{tpl.west |- 0,3621}{180}{80}{60}{3745,3614}{rel_template_template_file_format}
\rel{64,208,64}{mdt.south -| 4399,0}{270}{tpl.north -| 4288,0}{90}{30}{30}{4275,3576}{rel_template_module_detail}
\rel{48,128,48}{st.east |- 0,3100}{0}{sl.west |- 0,3100}{180}{30}{30}{2042,3124}{rel_status_list_status_type}
\end{pgfonlayer}
\end{tikzpicture}
\end{document}
